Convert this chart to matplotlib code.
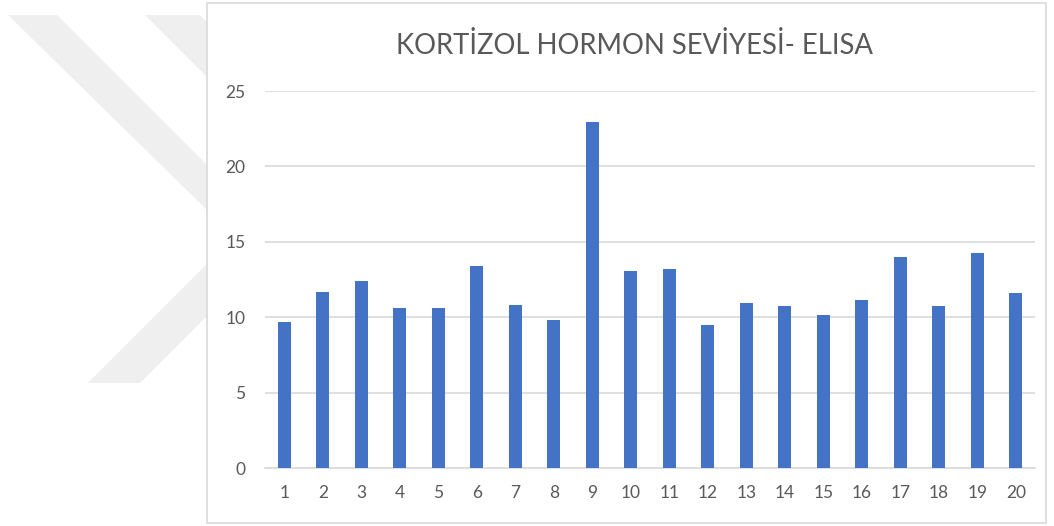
import matplotlib.pyplot as plt
from matplotlib.patches import Polygon, Rectangle

# data
samples = [str(i) for i in range(1, 21)]
cortisol = [9.67, 11.66, 12.41, 10.60, 10.60, 13.41, 10.80, 9.85, 22.94, 13.09,
            13.23, 9.52, 10.98, 10.74, 10.14, 11.13, 14.00, 10.74, 14.25, 11.60]
yticks = [0, 5, 10, 15, 20, 25]
title = "KORTİZOL HORMON SEVİYESİ- ELISA"

W, H = 1054, 526
fig = plt.figure(figsize=(W / 100, H / 100), dpi=100)
fig.patch.set_facecolor('white')

# background watermark (pixel coords -> figure fraction)
def px(pts):
    return [(x / W, 1 - y / H) for x, y in pts]

wm = '#efefef'
for pts in [
    [(8, 15), (57, 15), (207, 165), (207, 210)],
    [(145, 15), (200, 15), (207, 22), (207, 77)],
    [(88, 383), (140, 383), (207, 316), (207, 264)],
]:
    fig.patches.append(Polygon(px(pts), closed=True, transform=fig.transFigure,
                               facecolor=wm, edgecolor='none', zorder=0))

# chart frame
fig.patches.append(Rectangle((207 / W, 1 - 523 / H), (1046 - 207) / W, (523 - 3) / H,
                             transform=fig.transFigure, facecolor='white',
                             edgecolor='#d9d9d9', linewidth=1.2, zorder=1))

ax = fig.add_axes([265 / W, (H - 468.2) / H, (1035 - 265) / W, (468.2 - 91) / H])
ax.set_zorder(2)
ax.set_facecolor('none')

x = list(range(1, 21))
ax.bar(x, cortisol, width=0.35, color='#4472C4', zorder=3)

ax.set_xlim(0.5, 20.5)
ax.set_ylim(0, 25)
ax.set_yticks(yticks)
ax.set_xticks(x)
ax.set_xticklabels(samples)
ax.yaxis.grid(True, color='#d9d9d9', linewidth=1.2)
ax.set_axisbelow(True)
for s in ['top', 'right', 'left']:
    ax.spines[s].set_visible(False)
ax.spines['bottom'].set_color('#d9d9d9')
ax.spines['bottom'].set_linewidth(1.2)
ax.tick_params(length=0, labelsize=12.5, colors='#595959')
ax.tick_params(axis='y', pad=14)
ax.tick_params(axis='x', pad=12)
for lab in ax.get_xticklabels() + ax.get_yticklabels():
    lab.set_fontfamily('Lato')

fig.text(635 / W, 1 - 46 / H, title, ha='center', va='center',
         fontsize=19.8, color='#595959', fontfamily='Lato', fontweight='normal')

fig.savefig('out.png', dpi=100)
